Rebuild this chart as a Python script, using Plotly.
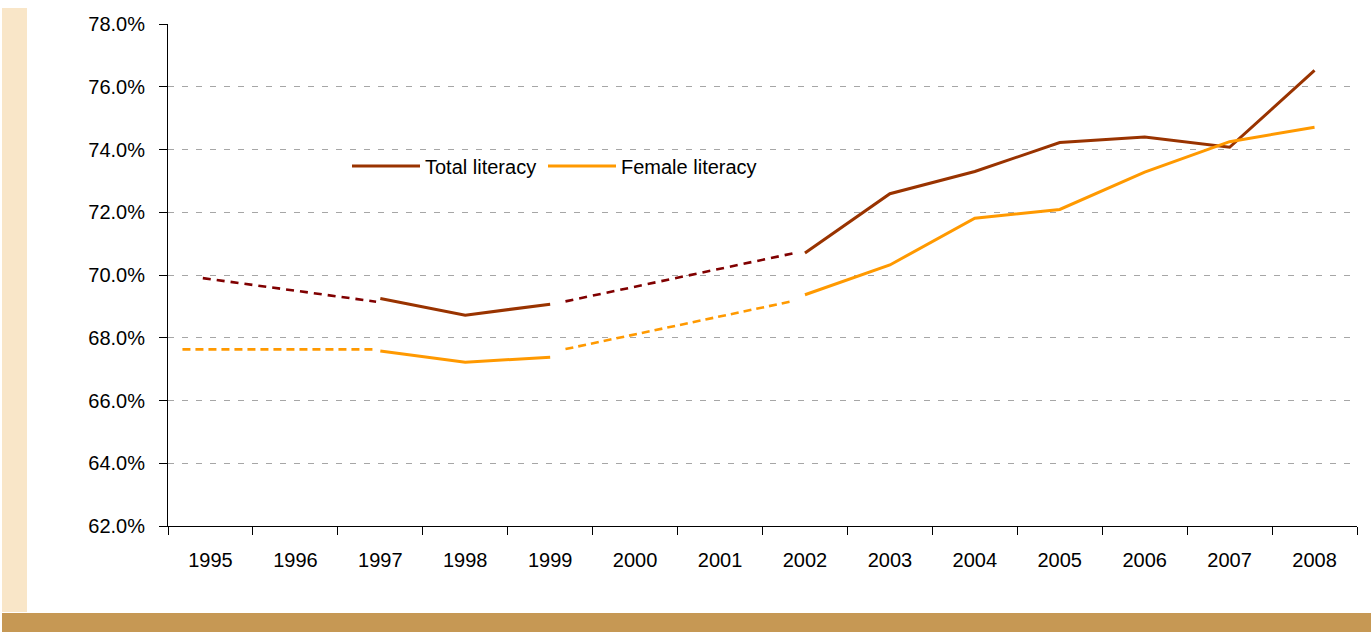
import plotly.graph_objects as go

# ---------------- data ----------------
years = list(range(1995, 2009))
year_labels = [str(y) for y in years]

total_solid = [None, None, 69.25, 68.72, 69.07, None, None, 70.70, 72.59, 73.30, 74.22, 74.40, 74.07, 76.52]
female_solid = [None, None, 67.58, 67.22, 67.38, None, None, 69.37, 70.32, 71.81, 72.09, 73.28, 74.25, 74.71]

# estimated (dashed) segments: x (fractional year positions)
total_est_a_x = [1994.91, 1996.95]
total_est_a_y = [69.90, 69.15]
total_est_b_x = [1999.18, 2001.86]
total_est_b_y = [69.16, 70.69]
female_est_a_x = [1994.67, 1996.91]
female_est_a_y = [67.63, 67.63]
female_est_b_x = [1999.18, 2001.86]
female_est_b_y = [67.64, 69.17]

y_ticks = [62, 64, 66, 68, 70, 72, 74, 76, 78]
y_tick_labels = [f"{v:.1f}%" for v in y_ticks]
boundaries = [y - 0.5 for y in years] + [years[-1] + 0.5]

series_names = ["Total literacy", "Female literacy"]

# ---------------- style ----------------
W, H = 1371, 632
ML, MR, MT, MB = 168, 14, 24, 106
PW, PH = W - ML - MR, H - MT - MB
FONT = "Liberation Sans, Arial, sans-serif"
C_TOTAL = "#993300"
C_TOTAL_EST = "#800000"
C_FEMALE = "#FF9900"


def px_x(px):
    return (px - ML) / PW


def px_y(py):
    return 1 - (py - MT) / PH


fig = go.Figure()

fig.add_trace(go.Scatter(x=total_est_a_x, y=total_est_a_y, mode="lines",
                         line=dict(color=C_TOTAL_EST, width=2.6, dash="8px,6px"),
                         showlegend=False, hoverinfo="skip"))
fig.add_trace(go.Scatter(x=total_est_b_x, y=total_est_b_y, mode="lines",
                         line=dict(color=C_TOTAL_EST, width=2.6, dash="8px,6px"),
                         showlegend=False, hoverinfo="skip"))
fig.add_trace(go.Scatter(x=female_est_a_x, y=female_est_a_y, mode="lines",
                         line=dict(color=C_FEMALE, width=2.6, dash="8px,5px"),
                         showlegend=False, hoverinfo="skip"))
fig.add_trace(go.Scatter(x=female_est_b_x, y=female_est_b_y, mode="lines",
                         line=dict(color=C_FEMALE, width=2.6, dash="8px,5px"),
                         showlegend=False, hoverinfo="skip"))
fig.add_trace(go.Scatter(x=years, y=total_solid, mode="lines", name=series_names[0],
                         line=dict(color=C_TOTAL, width=3), showlegend=False))
fig.add_trace(go.Scatter(x=years, y=female_solid, mode="lines", name=series_names[1],
                         line=dict(color=C_FEMALE, width=3), showlegend=False))

shapes = [
    # left beige strip
    dict(type="rect", xref="paper", yref="paper", x0=px_x(2), x1=px_x(27), y0=px_y(612), y1=px_y(8),
         fillcolor="#F9E6C8", line=dict(width=0), layer="below"),
    # bottom bar
    dict(type="rect", xref="paper", yref="paper", x0=px_x(2), x1=px_x(1371), y0=px_y(632), y1=px_y(613),
         fillcolor="#C69854", line=dict(width=0), layer="below"),
    # legend line samples
    dict(type="line", xref="paper", yref="paper", x0=px_x(352), x1=px_x(420), y0=px_y(166), y1=px_y(166),
         line=dict(color=C_TOTAL, width=3)),
    dict(type="line", xref="paper", yref="paper", x0=px_x(548), x1=px_x(616), y0=px_y(166), y1=px_y(166),
         line=dict(color=C_FEMALE, width=3)),
]

annotations = [
    dict(text=series_names[0], xref="paper", yref="paper", x=px_x(423), y=px_y(167),
         xanchor="left", yanchor="middle", showarrow=False, font=dict(family=FONT, size=20, color="#000")),
    dict(text=series_names[1], xref="paper", yref="paper", x=px_x(619), y=px_y(167),
         xanchor="left", yanchor="middle", showarrow=False, font=dict(family=FONT, size=20, color="#000")),
]

fig.update_layout(
    width=W, height=H,
    margin=dict(l=ML, r=MR, t=MT, b=MB),
    paper_bgcolor="white", plot_bgcolor="white",
    font=dict(family=FONT, size=20, color="#000"),
    showlegend=False,
    hovermode=False,
    shapes=shapes,
    annotations=annotations,
    xaxis=dict(
        range=[1994.5, 2008.5], tickmode="array", tickvals=years, ticktext=year_labels,
        ticks="", showgrid=False, zeroline=False,
        showline=True, linecolor="#000", linewidth=1,
        ticklabelstandoff=16,
        minor=dict(tickmode="array", tickvals=boundaries, ticks="outside", ticklen=8,
                   tickcolor="#000", tickwidth=1, showgrid=False),
    ),
    yaxis=dict(
        range=[62, 78], tickmode="array", tickvals=y_ticks, ticktext=y_tick_labels,
        ticks="outside", ticklen=8, tickcolor="#000", tickwidth=1,
        showline=True, linecolor="#000", linewidth=1, zeroline=False,
        showgrid=True, gridcolor="#A6A6A6", griddash="6px,8px", gridwidth=1,
        ticklabelstandoff=10,
    ),
)

fig.write_html("out.html", config={"displayModeBar": False},
               post_script="document.body.style.margin='0px';document.body.style.overflow='hidden';")
